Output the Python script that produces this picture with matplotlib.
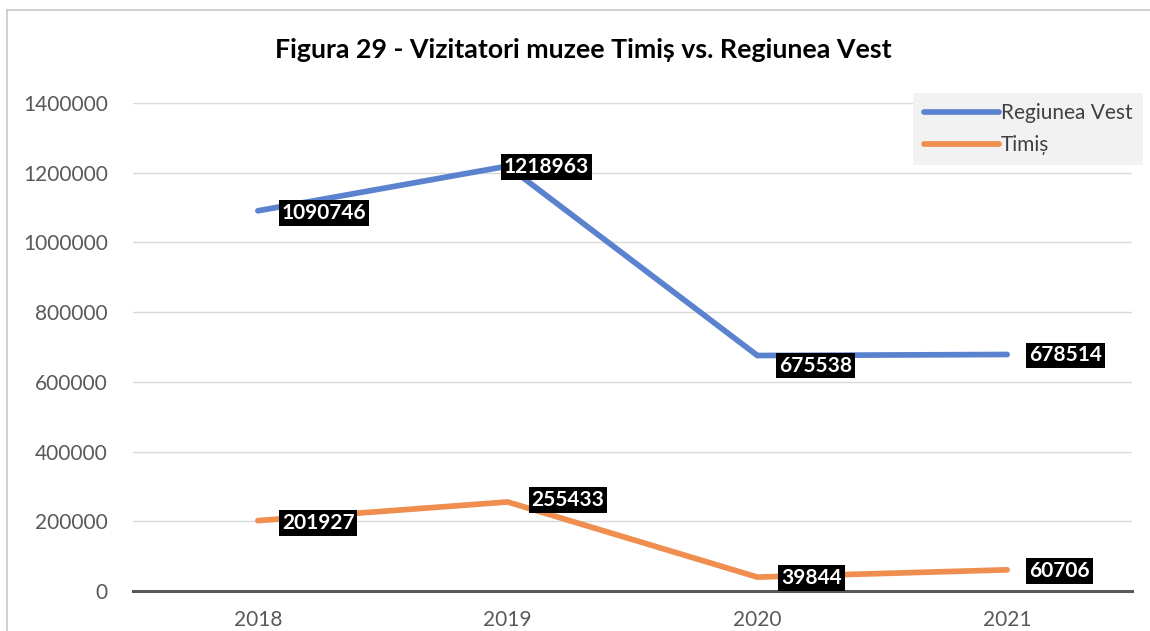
import matplotlib.pyplot as plt
from matplotlib.lines import Line2D
from matplotlib.ticker import FuncFormatter

years = ["2018", "2019", "2020", "2021"]
regiunea_vest = [1090746, 1218963, 675538, 678514]
timis = [201927, 255433, 39844, 60706]
series_names = ["Regiunea Vest", "Timiș"]
title = "Figura 29 - Vizitatori muzee Timiș vs. Regiunea Vest"

plt.rcParams['font.family'] = ['Lato', 'DejaVu Sans']

fig = plt.figure(figsize=(11.5, 6.31), dpi=100)
ax = fig.add_axes([133 / 1150, 40 / 631, 999 / 1150, 488 / 631])

x = list(range(len(years)))
blue = "#5b82cf"
orange = "#ef8e4f"
ax.plot(x, regiunea_vest, color=blue, lw=4.1, solid_capstyle='round',
        solid_joinstyle='miter', label=series_names[0], zorder=3)
ax.plot(x, timis, color=orange, lw=4.1, solid_capstyle='round',
        solid_joinstyle='miter', label=series_names[1], zorder=3)

# data labels, black boxes to the right of each point
offsets_vest = [(24, -2), (-4, -1), (22, -10), (22, -1)]
offsets_timis = [(24, -2), (24, 2), (24, -1), (22, -1)]
for vals, offs in ((regiunea_vest, offsets_vest), (timis, offsets_timis)):
    for xi, v, (dx, dy) in zip(x, vals, offs):
        ax.annotate(str(v), (xi, v), xytext=(dx, dy), textcoords='offset pixels',
                    ha='left', va='center', color='white', fontsize=15,
                    fontweight='bold', zorder=5,
                    bbox=dict(boxstyle='square,pad=0.14', fc='black', ec='none'))

ax.set_xlim(-0.5, 3.5)
ax.set_ylim(0, 1400000)
ax.set_yticks(range(0, 1400001, 200000))
ax.yaxis.set_major_formatter(FuncFormatter(lambda v, p: f"{int(v)}"))
ax.set_xticks(x)
ax.set_xticklabels(years)
ax.grid(axis='y', color='#d9d9d9', lw=1)
ax.set_axisbelow(True)
for s in ['top', 'right', 'left']:
    ax.spines[s].set_visible(False)
ax.spines['bottom'].set_color('#595959')
ax.spines['bottom'].set_linewidth(2.2)
ax.spines['bottom'].set_zorder(4)
ax.tick_params(axis='both', length=0, labelsize=15, colors='#595959')
ax.tick_params(axis='y', pad=18)
ax.tick_params(axis='x', pad=14)

fig.text(583 / 1150, 1 - 50 / 631, title, ha='center', va='center',
         fontsize=19.3, fontweight='bold', color='black')

handles = [Line2D([], [], color=blue, lw=4.1, solid_capstyle='round'),
           Line2D([], [], color=orange, lw=4.1, solid_capstyle='round')]
leg = ax.legend(handles, series_names, loc='upper right',
                bbox_to_anchor=(1143 / 1150, 1 - 93 / 631),
                bbox_transform=fig.transFigure, borderaxespad=0,
                fontsize=15, frameon=True, fancybox=False, facecolor='#f2f2f2',
                edgecolor='none', framealpha=1, handlelength=3.6,
                handletextpad=0.1, labelspacing=0.55, borderpad=0.5,
                labelcolor='#404040')
leg.set_zorder(6)

# outer chart border (left and top visible)
fig.add_artist(Line2D([7 / 1150, 7 / 1150], [0, 1 - 10 / 631],
                      transform=fig.transFigure, color='#c8c8c8', lw=1.2))
fig.add_artist(Line2D([7 / 1150, 1], [1 - 10 / 631, 1 - 10 / 631],
                      transform=fig.transFigure, color='#c8c8c8', lw=1.2))

fig.savefig("out.png", dpi=100)
